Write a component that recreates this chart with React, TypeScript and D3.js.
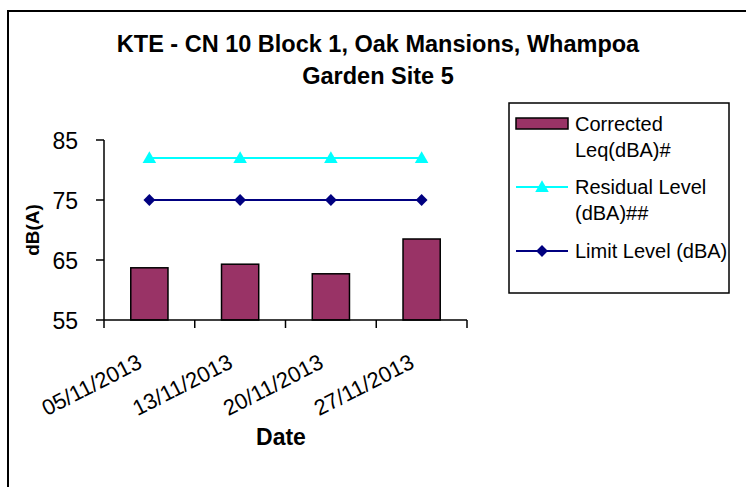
import React from "react";
import * as d3 from "d3";

const dates = ["05/11/2013", "13/11/2013", "20/11/2013", "27/11/2013"];
const corrected = [63.7, 64.3, 62.7, 68.5];
const residual = [82, 82, 82, 82];
const limit = [75, 75, 75, 75];
const yTicks = [55, 65, 75, 85];
const titleLines = ["KTE - CN 10 Block 1, Oak Mansions, Whampoa", "Garden Site 5"];
const legendItems = [
  { key: "bar", lines: ["Corrected", "Leq(dBA)#"] },
  { key: "res", lines: ["Residual Level", "(dBA)##"] },
  { key: "lim", lines: ["Limit Level (dBA)"] },
];

const W = 746;
const H = 487;
const FONT = "Arial, 'Liberation Sans', sans-serif";

export default function App() {
  const left = 104, right = 467, top = 140, bottom = 320;
  const x = d3.scaleBand<string>().domain(dates).range([left, right]).paddingInner(0.59).paddingOuter(0.295);
  const xc = d3.scaleBand<string>().domain(dates).range([left, right]);
  const y = d3.scaleLinear().domain([55, 85]).range([bottom, top]);
  const cx = (d: string) => (xc(d) as number) + xc.bandwidth() / 2;

  const line = d3.line<number>().x((_, i) => cx(dates[i])).y((v) => y(v));
  const tri = d3.symbol().type(d3.symbolTriangle).size(80)();
  const dia = d3.symbol().type(d3.symbolSquare).size(70)();

  const boundaries = [...dates.map((d) => xc(d) as number), right];

  return (
    <svg width={W} height={H} style={{ position: "absolute", left: 0, top: 0, background: "#fff" }} fontFamily={FONT}>
      <rect x={0} y={0} width={W} height={H} fill="#fff" />
      <rect x={8} y={11} width={W + 20} height={H + 20} fill="none" stroke="#000" strokeWidth={2} />

      {titleLines.map((t, i) => (
        <text key={i} x={378} y={52 + i * 32} textAnchor="middle" fontWeight="bold" fontSize={23.5}>
          {t}
        </text>
      ))}

      {/* bars */}
      {corrected.map((v, i) => (
        <rect
          key={i}
          x={x(dates[i])}
          y={y(v)}
          width={x.bandwidth()}
          height={bottom - y(v)}
          fill="#993366"
          stroke="#000"
          strokeWidth={1.5}
        />
      ))}

      {/* axes */}
      <line x1={left} y1={top} x2={left} y2={bottom} stroke="#000" strokeWidth={1.5} />
      <line x1={left} y1={bottom} x2={right} y2={bottom} stroke="#000" strokeWidth={1.5} />
      {yTicks.map((t) => (
        <g key={t}>
          <line x1={left - 8} x2={left} y1={y(t)} y2={y(t)} stroke="#000" strokeWidth={1.5} />
          <text x={78} y={y(t) + 8.5} textAnchor="end" fontSize={23}>
            {t}
          </text>
        </g>
      ))}
      {boundaries.map((b, i) => (
        <line key={i} x1={b} x2={b} y1={bottom} y2={bottom + 8} stroke="#000" strokeWidth={1.5} />
      ))}
      {dates.map((d) => (
        <text
          key={d}
          transform={`translate(${cx(d) - 6},${bottom + 47}) rotate(-27)`}
          textAnchor="end"
          fontSize={22}
        >
          {d}
        </text>
      ))}
      <text x={281} y={445} textAnchor="middle" fontWeight="bold" fontSize={23}>
        Date
      </text>
      <text transform={`translate(39,${(top + bottom) / 2}) rotate(-90)`} textAnchor="middle" fontWeight="bold" fontSize={19}>
        dB(A)
      </text>

      {/* lines */}
      <path d={line(residual) as string} fill="none" stroke="#00FFFF" strokeWidth={2} />
      {residual.map((v, i) => (
        <path key={i} d={tri as string} transform={`translate(${cx(dates[i])},${y(v) + 1})`} fill="#00FFFF" />
      ))}
      <path d={line(limit) as string} fill="none" stroke="#000080" strokeWidth={2} />
      {limit.map((v, i) => (
        <path key={i} d={dia as string} transform={`translate(${cx(dates[i])},${y(v)}) rotate(45)`} fill="#000080" />
      ))}

      {/* legend */}
      <rect x={509} y={103} width={220} height={190} fill="#fff" stroke="#000" strokeWidth={1.5} />
      <rect x={516} y={118} width={52} height={11} fill="#993366" stroke="#000" strokeWidth={1.5} />
      <line x1={516} x2={568} y1={187} y2={187} stroke="#00FFFF" strokeWidth={2} />
      <path d={tri as string} transform="translate(542,188)" fill="#00FFFF" />
      <line x1={516} x2={568} y1={251} y2={251} stroke="#000080" strokeWidth={2} />
      <path d={dia as string} transform="translate(542,251) rotate(45)" fill="#000080" />
      {[131, 194, 258].map((by, i) => (
        <text key={legendItems[i].key} x={575} y={by} fontSize={20}>
          {legendItems[i].lines.map((l, j) => (
            <tspan key={j} x={575} dy={j === 0 ? 0 : 26}>
              {l}
            </tspan>
          ))}
        </text>
      ))}
    </svg>
  );
}
